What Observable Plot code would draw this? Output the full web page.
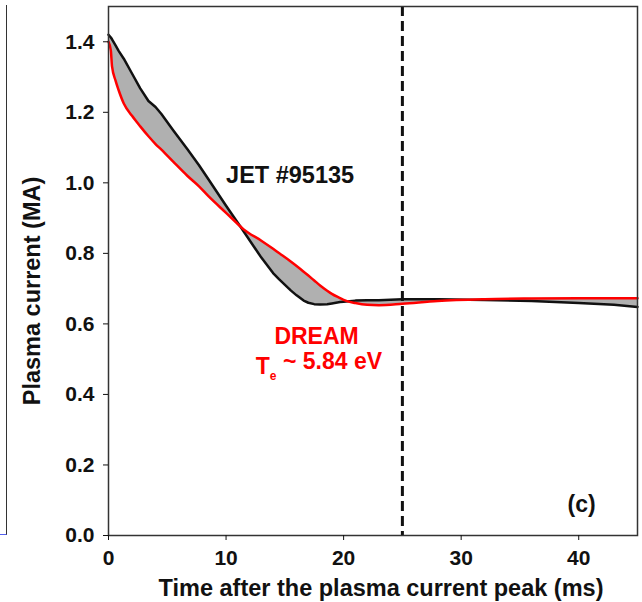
<!DOCTYPE html>
<html>
<head>
<meta charset="utf-8">
<script src="https://cdn.jsdelivr.net/npm/d3@7"></script>
<script src="https://cdn.jsdelivr.net/npm/@observablehq/plot@0.6"></script>
<style>
  html, body { margin: 0; padding: 0; background: #fff; }
  #wrap { position: relative; width: 642px; height: 602px; }
  #neighbor { position: absolute; left: 0; top: 5px; width: 6px; height: 529px;
    border-right: 1.5px solid #333; border-bottom: 1.5px solid #5560ee; }
</style>
</head>
<body>
<div id="wrap"><div id="neighbor"></div><div id="chart"></div></div>
<script>
// Time after plasma current peak (ms)
const time  = [0, 0.2, 0.3, 0.6, 0.85, 1.3, 2, 2.7, 3.4, 4.0, 4.5, 5.5, 6.7, 7.7, 8.5, 10, 11.2, 11.5, 13, 14, 14.5, 15.5, 16, 16.6, 17, 17.5, 18, 18.6, 19, 19.7, 20, 21, 22, 23, 25, 28, 32, 36, 40, 43, 45];
// JET #95135 measured plasma current (MA)
const jet   = [1.42, 1.412, 1.407, 1.39, 1.375, 1.352, 1.31, 1.268, 1.232, 1.215, 1.195, 1.149, 1.096, 1.05, 1.01, 0.935, 0.877, 0.862, 0.788, 0.744, 0.727, 0.695, 0.681, 0.666, 0.66, 0.656, 0.655, 0.656, 0.658, 0.662, 0.663, 0.666, 0.667, 0.667, 0.67, 0.67, 0.668, 0.665, 0.659, 0.654, 0.648];
// DREAM simulation (Te ~ 5.84 eV)
const dream = [1.40, 1.375, 1.33, 1.29, 1.264, 1.225, 1.19, 1.16, 1.132, 1.11, 1.094, 1.06, 1.02, 0.99, 0.962, 0.915, 0.877, 0.868, 0.836, 0.813, 0.801, 0.777, 0.764, 0.748, 0.737, 0.723, 0.709, 0.694, 0.685, 0.673, 0.668, 0.659, 0.654, 0.653, 0.657, 0.665, 0.67, 0.672, 0.673, 0.673, 0.673];
const xTicks = [0, 10, 20, 30, 40];
const yTicks = [0, 0.2, 0.4, 0.6, 0.8, 1.0, 1.2, 1.4];
const disruptTime = [25];

const jetLabel   = [{x: 10, y: 1.02, text: "JET #95135"}];
const dreamLabel = [{x: 17.7, y: 0.563, text: "DREAM"}, {x: 17.9, y: 0.478, text: "Te ~ 5.84 eV"}];
const panelLabel = [{x: 40.25, y: 0.088, text: "(c)"}];

const rows = time.map((t, i) => ({t, jet: jet[i], dream: dream[i]}));

const chart = Plot.plot({
  width: 642,
  height: 602,
  marginLeft: 108,
  marginRight: 5,
  marginTop: 6,
  marginBottom: 67,
  style: {fontFamily: "'Liberation Sans', Arial, sans-serif", fontSize: "21px", fontWeight: "bold", color: "#111", background: "#fff"},
  x: {domain: [0, 45]},
  y: {domain: [0, 1.5]},
  marks: [
    Plot.areaY(rows, {x: "t", y1: "dream", y2: "jet", fill: "#b0b0b0"}),
    Plot.line(rows, {x: "t", y: "jet", stroke: "#111", strokeWidth: 2.5}),
    Plot.line(rows, {x: "t", y: "dream", stroke: "#ff0000", strokeWidth: 2.5, curve: "monotone-x"}),
    Plot.ruleX(disruptTime, {stroke: "#111", strokeWidth: 3, strokeDasharray: "10,5"}),
    Plot.frame({stroke: "#333", strokeWidth: 1.5}),
    Plot.axisX({ticks: xTicks, tickSize: 5, tickPadding: 10, label: null, fontSize: 21, tickFormat: d3.format("d")}),
    Plot.axisY({ticks: yTicks, tickSize: 5, tickPadding: 9, label: null, fontSize: 21, tickFormat: d3.format(".1f")}),
    Plot.text(["Time after the plasma current peak (ms)"], {frameAnchor: "bottom", dx: 8, dy: 53, textAnchor: "middle", lineAnchor: "middle", fontSize: 23.5, fontWeight: "bold"}),
    Plot.text(["Plasma current (MA)"], {frameAnchor: "left", dx: -76, dy: 20, rotate: -90, textAnchor: "middle", lineAnchor: "middle", fontSize: 23.5, fontWeight: "bold"}),
    Plot.text(jetLabel, {x: "x", y: "y", text: "text", fill: "#111", textAnchor: "start", lineAnchor: "middle", fontSize: 23.5, fontWeight: "bold"}),
    Plot.text(dreamLabel, {x: "x", y: "y", text: "text", fill: "#ff0000", textAnchor: "middle", lineAnchor: "middle", fontSize: 23, fontWeight: "bold"}),
    Plot.text(panelLabel, {x: "x", y: "y", text: "text", fill: "#111", textAnchor: "middle", lineAnchor: "middle", fontSize: 23, fontWeight: "bold"})
  ]
});

// Subscript e in "Te"
d3.select(chart).selectAll("text").filter(function() { return this.textContent === "Te ~ 5.84 eV"; })
  .each(function() {
    const s = d3.select(this);
    s.text(null);
    s.append("tspan").text("T");
    s.append("tspan").attr("dy", "0.45em").attr("font-size", 12).text("e");
    s.append("tspan").attr("dy", "-0.45em").text(" ~ 5.84 eV");
  });

document.getElementById("chart").appendChild(chart);
</script>
</body>
</html>
